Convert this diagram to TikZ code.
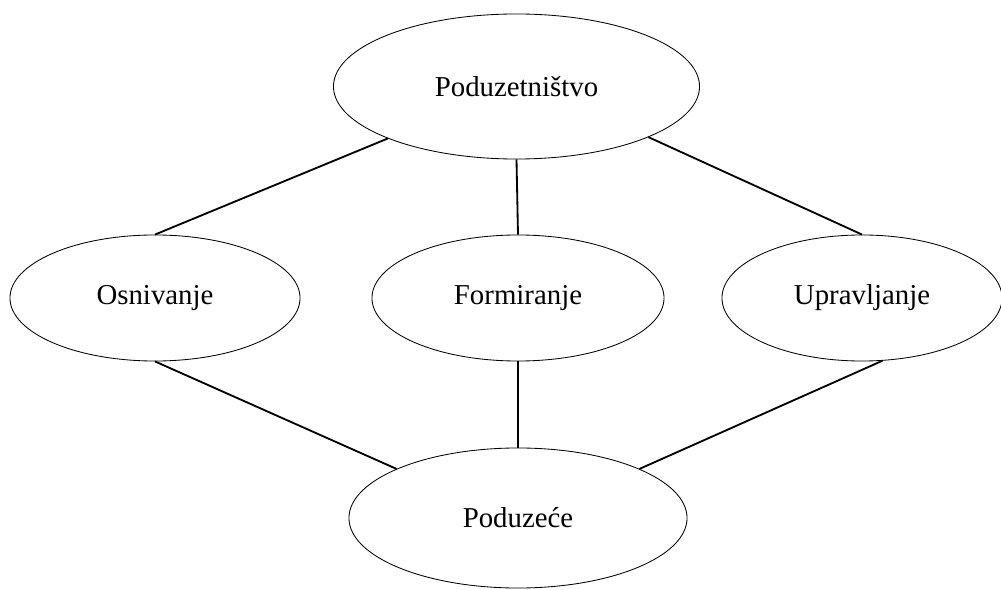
\documentclass[tikz,border=0pt]{standalone}
\usepackage{fontspec}
\setmainfont{Liberation Serif}
\usetikzlibrary{shapes.geometric}

\begin{document}
\begin{tikzpicture}[x=0.025cm,y=-0.025cm,
  pojam/.style={draw,ellipse,line width=0.6pt,inner sep=0pt,font=\fontsize{20.5}{24}\selectfont},
  veza/.style={line width=1.3pt}]
\useasboundingbox (0,0) rectangle (1001,590);

\node[pojam,minimum width=9.15cm,minimum height=3.625cm] (podz) at (516.5,86.5) {Poduzetništvo};
\node[pojam,minimum width=7.25cm,minimum height=3.15cm] (osn) at (155,298) {Osnivanje};
\node[pojam,minimum width=7.3cm,minimum height=3.15cm] (form) at (518,298) {Formiranje};
\node[pojam,minimum width=7cm,minimum height=3.15cm] (upr) at (862,298) {Upravljanje};
\node[pojam,minimum width=8.45cm,minimum height=3.5cm] (pod) at (518,518) {Poduzeće};

\draw[veza] (podz.202) -- (osn.north);
\draw[veza] (podz.south) -- (form.north);
\draw[veza] (podz.339) -- (upr.north);
\draw[veza] (osn.south) -- (pod.158);
\draw[veza] (form.south) -- (pod.north);
\draw[veza] (upr.288) -- (pod.22);
\end{tikzpicture}
\end{document}
